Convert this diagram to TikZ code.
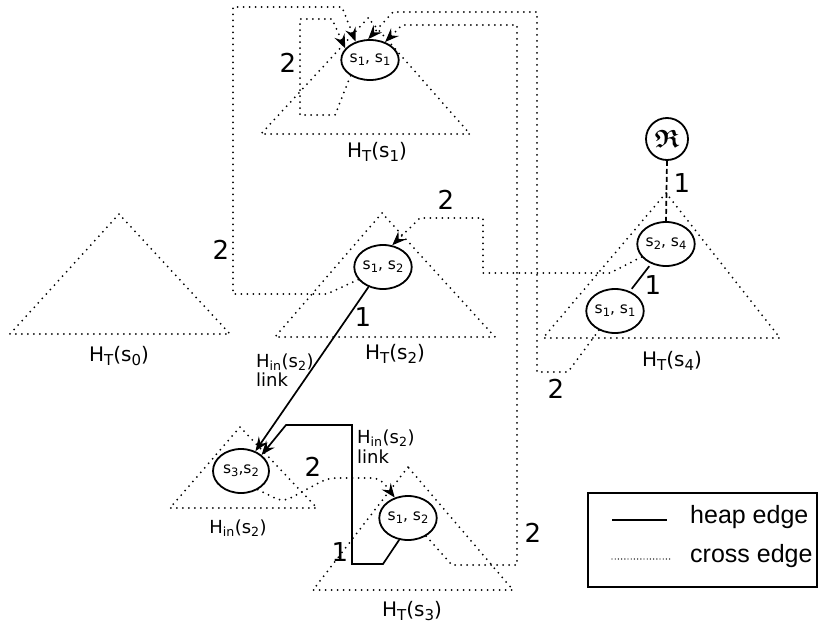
\documentclass[tikz,border=0pt]{standalone}
\usepackage{amsmath,amssymb}
\usepackage{fontspec}
\setmainfont{DejaVu Sans}
\newfontfamily\legendfont{Liberation Sans}
\usetikzlibrary{shapes.geometric,arrows.meta}
\newcommand{\frakR}{{\fontsize{25}{25}\usefont{U}{euf}{b}{n}R}}
\newcommand{\bsub}[1]{\raisebox{-4.5pt}{\fontsize{15}{15}\selectfont #1}}
\newcommand{\nsub}[1]{\raisebox{-3pt}{\fontsize{11.5}{11.5}\selectfont #1}}
\tikzset{
  crossline/.style={line width=2pt, dash pattern=on 0pt off 6pt, line cap=round},
  tri/.style={line width=2pt, dash pattern=on 0pt off 6pt, line cap=round},
  heapline/.style={line width=1.7pt},
  arr/.style={-{Stealth[length=14pt,width=11pt,inset=5pt]}},
  pair/.style={ellipse, draw, line width=1.8pt, fill=white, minimum width=56pt, minimum height=44pt, inner sep=0pt, font=\fontsize{15.5}{15.5}\selectfont},
  wlab/.style={font=\fontsize{26}{26}\selectfont, inner sep=0pt},
  hlab/.style={font=\fontsize{20}{20}\selectfont, inner sep=0pt, anchor=base},
  inlab/.style={font=\fontsize{18}{18}\selectfont, inner sep=0pt, anchor=base},
  llab/.style={font=\fontsize{18}{18}\selectfont, inner sep=0pt, anchor=base west},
  legtext/.style={font=\legendfont\fontsize{25}{25}\selectfont, inner sep=0pt, anchor=base west},
  rootnode/.style={circle, draw, line width=1.8pt, fill=white, minimum size=42pt, inner sep=0pt},
}
\begin{document}
\begin{tikzpicture}[x=1pt,y=-1pt]
\path[fill=white] (0,0) rectangle (819,629);
\useasboundingbox (0,0) rectangle (819,629);

% triangles
\draw[tri] (119,214) -- (10,334) -- (230,334) -- cycle;
\draw[tri] (368,18) -- (261,134) -- (470,134) -- cycle;
\draw[tri] (382,213) -- (275,337) -- (495,337) -- cycle;
\draw[tri] (666,193) -- (543,338) -- (780,338) -- cycle;
\draw[tri] (240,427) -- (170,508) -- (317,508) -- cycle;
\draw[tri] (408,467) -- (313,590) -- (513,590) -- cycle;

% triangle labels
\node[hlab] (l0) at (119,361) {H\bsub{T}(s\bsub{0})};
\node[hlab] (l1) at (377,157) {H\bsub{T}(s\bsub{1})};
\node[hlab] (l2) at (395,359) {H\bsub{T}(s\bsub{2})};
\node[hlab] (l4) at (672,366) {H\bsub{T}(s\bsub{4})};
\node[inlab] (lin) at (238,533) {H\textsubscript{in}(s\textsubscript{2})};
\node[hlab] (l3) at (412,616) {H\bsub{T}(s\bsub{3})};

% nodes
\node[pair, minimum height=40pt] (n11top) at (370,60) {s\nsub{1}, s\nsub{1}};
\node[pair] (n12a) at (383,267) {s\nsub{1}, s\nsub{2}};
\node[pair] (n24) at (666,244) {s\nsub{2}, s\nsub{4}};
\node[pair] (n11b) at (615,311) {s\nsub{1}, s\nsub{1}};
\node[pair] (n32) at (241,471) {s\nsub{3},s\nsub{2}};
\node[pair] (n12b) at (408,518) {s\nsub{1}, s\nsub{2}};
\node[rootnode] (root) at (667,139) {\frakR};

% heap edges
\draw[heapline,arr] (n12a.-126) -- (n32.54);
\draw[heapline,arr] (n12b.-112) -- (383,564) -- (352,564) -- (352,425) -- (286,425) -- (n32.38);
\draw[heapline, shorten <=3pt, shorten >=3pt] (n24.-127) -- (n11b.53);
\draw[heapline, dash pattern=on 5pt off 3pt] (root.south) -- (n24.north);

% cross edges
\draw[crossline,arr] (n11top.-141) -- (335,115) -- (300,115) -- (300,19) -- (332,19) -- (n11top.155);
\draw[crossline,arr] (n12a.-153) -- (327,294) -- (233,294) -- (233,7) -- (342,7) -- (n11top.128);
\draw[crossline,arr] (n11b.-130) -- (568,372) -- (537,372) -- (537,12) -- (393,12) -- (n11top.95);
\draw[crossline,arr] (n12b.-45) -- (452,565) -- (517,565) -- (517,25) -- (402,25) -- (n11top.50);
\draw[crossline,arr] (n24.-152) -- (610,273) -- (483,273) -- (483,218) -- (420,218) -- (n12a.67);
\draw[crossline,arr,rounded corners=8pt] (n32.-48) -- (283,502) -- (328,478) -- (380,478) -- (n12b.123);

% edge weights
\node[wlab] (w1) at (288,63) {2};
\node[wlab] (w2) at (221,250) {2};
\node[wlab] (w3) at (446,200) {2};
\node[wlab] (w4) at (556,389) {2};
\node[wlab] (w5) at (533,533) {2};
\node[wlab] (w6) at (313,467) {2};
\node[wlab] (w7) at (363,317) {1};
\node[wlab] (w8) at (340,552) {1};
\node[wlab] (w9) at (653,285) {1};
\node[wlab] (w10) at (682,183) {1};

% link labels
\node[llab] (k1) at (256,367) {H\textsubscript{in}(s\textsubscript{2})};
\node[llab] (k1b) at (256,386) {link};
\node[llab] (k2) at (357,443) {H\textsubscript{in}(s\textsubscript{2})};
\node[llab] (k2b) at (357,463) {link};

% legend
\draw[line width=1.5pt] (588,493) rectangle (817,587);
\coordinate (ha) at (612,520);
\coordinate (hb) at (667,520);
\coordinate (ca) at (612,559);
\coordinate (cb) at (670,559);
\draw[heapline] (ha) -- (hb);
\draw[line width=1.4pt, dash pattern=on 0pt off 3.2pt, line cap=round] (ca) -- (cb);
\node[legtext] (t1) at (690,523) {heap edge};
\node[legtext] (t2) at (690,562) {cross edge};
\end{tikzpicture}
\end{document}
